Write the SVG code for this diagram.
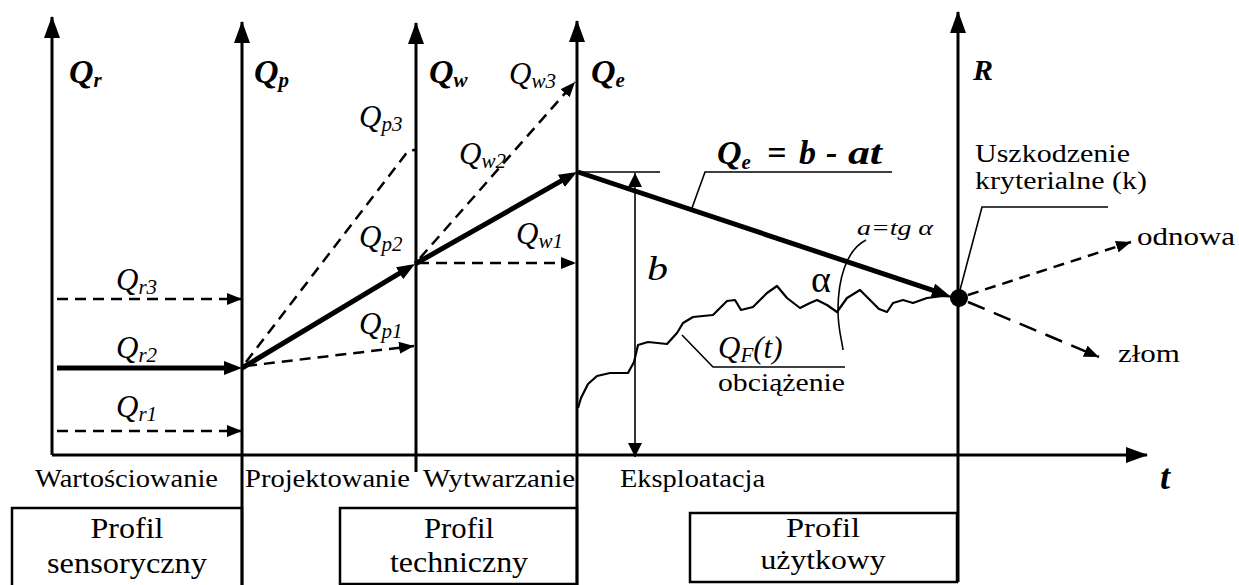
<svg xmlns="http://www.w3.org/2000/svg" width="1239" height="585" viewBox="0 0 1239 585">
<style>
.ax{stroke:#000;stroke-width:3;fill:none}
.thin{stroke:#000;stroke-width:1.6;fill:none}
.thick{stroke:#000;stroke-width:5;fill:none}
.dash{stroke:#000;stroke-width:2.5;stroke-dasharray:11 7;fill:none}
.dash2{stroke:#000;stroke-width:2.5;stroke-dasharray:18 10;fill:none}
.box{fill:#fff;stroke:#000;stroke-width:2.5}
.curve{stroke:#000;stroke-width:2.2;fill:none;stroke-linejoin:round}
.bi{font-weight:bold;font-style:italic;font-size:34px}
.it{font-style:italic;font-size:31px}
.s{font-size:21px}
.lb{font-size:25px}
.pf{font-size:30px}
</style>
<defs>
<marker id="axA" markerUnits="userSpaceOnUse" markerWidth="22" markerHeight="16" refX="21" refY="8" orient="auto"><path d="M0,0 L22,8 L0,16 z" fill="#000"/></marker>
<marker id="ah" markerUnits="userSpaceOnUse" markerWidth="15" markerHeight="12" refX="15" refY="6" orient="auto"><path d="M0,0 L15,6 L0,12 z" fill="#000"/></marker>
<marker id="ahT" markerUnits="userSpaceOnUse" markerWidth="18" markerHeight="14" refX="8" refY="7" orient="auto"><path d="M0,0 L18,7 L0,14 z" fill="#000"/></marker>
<marker id="ahB" markerUnits="userSpaceOnUse" markerWidth="14" markerHeight="14" refX="14" refY="7" orient="auto"><path d="M0,0 L14,7 L0,14 z" fill="#000"/></marker>
</defs>
<rect width="1239" height="585" fill="#fff"/>

<g id="boxes">
<g id="box-sensoryczny"><rect class="box" x="12" y="508" width="230" height="90"/>
<text font-family="Liberation Serif" class="pf" x="127" y="538" text-anchor="middle" textLength="73" lengthAdjust="spacingAndGlyphs">Profil</text>
<text font-family="Liberation Serif" class="pf" x="127" y="573" text-anchor="middle" textLength="160" lengthAdjust="spacingAndGlyphs">sensoryczny</text></g>
<g id="box-techniczny"><rect class="box" x="340" y="508" width="237" height="76"/>
<text font-family="Liberation Serif" class="pf" x="459" y="538" text-anchor="middle" textLength="70" lengthAdjust="spacingAndGlyphs">Profil</text>
<text font-family="Liberation Serif" class="pf" x="459" y="572" text-anchor="middle" textLength="138" lengthAdjust="spacingAndGlyphs">techniczny</text></g>
<g id="box-uzytkowy"><rect class="box" x="690" y="513" width="267" height="69"/>
<text font-family="Liberation Serif" class="pf" x="823" y="537" text-anchor="middle" style="font-size:28px" textLength="74" lengthAdjust="spacingAndGlyphs">Profil</text>
<text font-family="Liberation Serif" class="pf" x="823" y="569" text-anchor="middle" style="font-size:28px" textLength="125" lengthAdjust="spacingAndGlyphs">użytkowy</text></g>
</g>

<g id="axes">
<path class="ax" d="M52 455 H1147" marker-end="url(#axA)"/>
<path class="ax" d="M52 455 V17" marker-end="url(#axA)"/>
<path class="ax" d="M242 585 V22" marker-end="url(#axA)"/>
<path class="ax" d="M416 472 V23" marker-end="url(#axA)"/>
<path class="ax" d="M577 585 V21" marker-end="url(#axA)"/>
<path class="ax" d="M958 582 V12" marker-end="url(#axA)"/>
</g>

<g id="connectors">
<path class="dash" d="M57 299 H242" marker-end="url(#ah)"/>
<path class="thick" d="M57 368 H232" marker-end="url(#ahT)"/>
<path class="dash" d="M57 431 H242" marker-end="url(#ah)"/>
<path class="dash" d="M246 366 L414 346" marker-end="url(#ah)"/>
<path class="thick" d="M242 368 L406.4 269.1" marker-end="url(#ahT)"/>
<path class="dash" d="M246 362 L405 155 Q408 150 415 150"/>
<path class="dash" d="M418 263 H576" marker-end="url(#ah)"/>
<path class="thick" d="M415 264 L568.3 176.9" marker-end="url(#ahT)"/>
<path class="dash" d="M420 258 L575 82" marker-end="url(#ah)"/>
<path class="thin" d="M578 172 H660"/>
<path class="thin" d="M635 300 V173" marker-end="url(#ahB)"/>
<path class="thin" d="M635 300 V457" marker-end="url(#ahB)"/>
<path class="thick" d="M578 172 L940.5 292.8" marker-end="url(#ahT)"/>
<path class="thin" d="M692 208 L705 172 H892"/>
<path class="dash" d="M968 295 L1131 242" marker-end="url(#ah)"/>
<path class="dash2" d="M968 302 L1099 357" marker-end="url(#ah)"/>
<path class="thin" d="M960 290 L982 207 H1108"/>
<path class="curve" d="M578 408 L581 398 L588 384 L597 376 L610 373 L628 373 L634 362 L638 345 L648 342 L667 344 L677 333 L683 323 L693 317 L713 315 L720 308 L727 301 L735 300 L741 310 L753 307 L767 293 L777 286 L787 298 L800 308 L810 303 L817 300 L827 305 L837 312 L847 298 L860 290 L870 300 L879 309 L887 312 L893 303 L903 300 L913 303 L927 298 L943 296 L955 297"/>
<path class="thin" d="M866 240 C846 250 838 280 838 310 C838 330 842 340 843 350"/>
<path class="thin" d="M682 335 L713 367 H845"/>
<circle cx="959" cy="298" r="9" fill="#000"/>
</g>

<g id="labels">
<text font-family="Liberation Serif" class="bi" x="69" y="83">Q<tspan class="s" dy="4">r</tspan></text>
<text font-family="Liberation Serif" class="bi" x="254" y="83">Q<tspan class="s" dy="4">p</tspan></text>
<text font-family="Liberation Serif" class="bi" x="429" y="83">Q<tspan class="s" dy="4">w</tspan></text>
<text font-family="Liberation Serif" class="bi" x="591" y="83">Q<tspan class="s" dy="4">e</tspan></text>
<text font-family="Liberation Serif" class="bi" x="973" y="80" style="font-size:30px">R</text>
<text font-family="Liberation Serif" class="it" x="509" y="84">Q<tspan class="s" dy="4">w3</tspan></text>
<text font-family="Liberation Serif" class="it" x="359" y="127">Q<tspan class="s" dy="4">p3</tspan></text>
<text font-family="Liberation Serif" class="it" x="459" y="164">Q<tspan class="s" dy="4">w2</tspan></text>
<text font-family="Liberation Serif" class="it" x="359" y="247">Q<tspan class="s" dy="4">p2</tspan></text>
<text font-family="Liberation Serif" class="it" x="516" y="244">Q<tspan class="s" dy="4">w1</tspan></text>
<text font-family="Liberation Serif" class="it" x="359" y="334">Q<tspan class="s" dy="4">p1</tspan></text>
<text font-family="Liberation Serif" class="it" x="116" y="290">Q<tspan class="s" dy="4">r3</tspan></text>
<text font-family="Liberation Serif" class="it" x="116" y="358">Q<tspan class="s" dy="4">r2</tspan></text>
<text font-family="Liberation Serif" class="it" x="116" y="417">Q<tspan class="s" dy="4">r1</tspan></text>
<text font-family="Liberation Serif" class="bi" x="717" y="164">Q<tspan class="s" dy="5">e</tspan><tspan x="767" dy="-5">=</tspan><tspan x="799">b</tspan><tspan x="826">-</tspan><tspan x="848" textLength="34" lengthAdjust="spacingAndGlyphs">at</tspan></text>
<text font-family="Liberation Serif" class="it" x="647" y="280" style="font-size:33px" textLength="21" lengthAdjust="spacingAndGlyphs">b</text>
<text font-family="Liberation Serif" x="811" y="292" style="font-size:38px">α</text>
<text font-family="Liberation Serif" class="it" x="857" y="235" style="font-size:21px" textLength="76" lengthAdjust="spacingAndGlyphs">a=tg α</text>
<text font-family="Liberation Serif" class="lb" x="975" y="162" textLength="155" lengthAdjust="spacingAndGlyphs">Uszkodzenie</text>
<text font-family="Liberation Serif" class="lb" x="975" y="189" textLength="172" lengthAdjust="spacingAndGlyphs">kryterialne (k)</text>
<text font-family="Liberation Serif" class="lb" x="1137" y="245" style="font-size:26px" textLength="98" lengthAdjust="spacingAndGlyphs">odnowa</text>
<text font-family="Liberation Serif" class="lb" x="1118" y="362" style="font-size:26px" textLength="62" lengthAdjust="spacingAndGlyphs">złom</text>
<text font-family="Liberation Serif" class="it" x="718" y="358">Q<tspan class="s" dy="4">F</tspan><tspan dy="-4">(t)</tspan></text>
<text font-family="Liberation Serif" class="lb" x="718" y="391" textLength="127" lengthAdjust="spacingAndGlyphs">obciążenie</text>
<text font-family="Liberation Serif" class="lb" x="35" y="487" textLength="183" lengthAdjust="spacingAndGlyphs">Wartościowanie</text>
<text font-family="Liberation Serif" class="lb" x="245" y="487" textLength="165" lengthAdjust="spacingAndGlyphs">Projektowanie</text>
<text font-family="Liberation Serif" class="lb" x="423" y="487" textLength="152" lengthAdjust="spacingAndGlyphs">Wytwarzanie</text>
<text font-family="Liberation Serif" class="lb" x="620" y="487" textLength="145" lengthAdjust="spacingAndGlyphs">Eksploatacja</text>
<text font-family="Liberation Serif" class="bi" x="1160" y="489" style="font-size:36px">t</text>
</g>
</svg>
